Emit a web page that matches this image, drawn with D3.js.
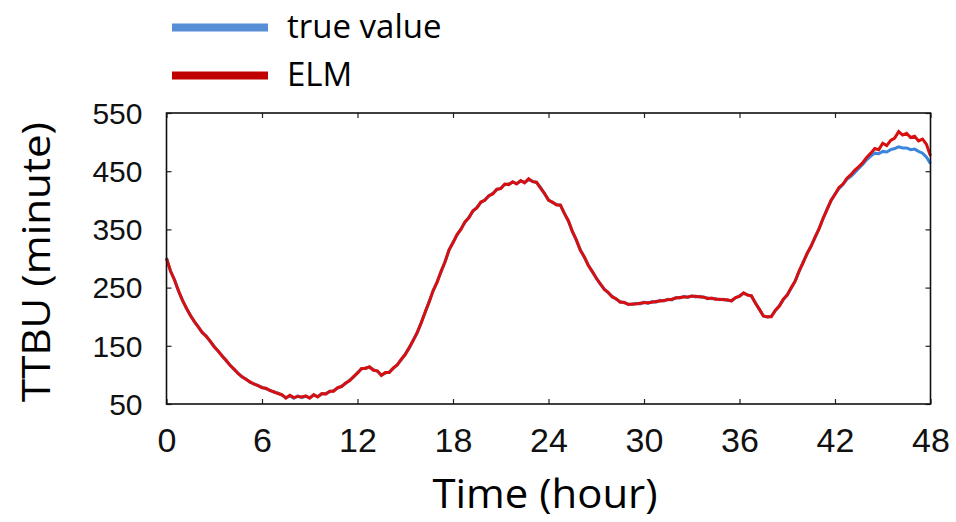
<!DOCTYPE html>
<html>
<head>
<meta charset="utf-8">
<script src="https://cdn.jsdelivr.net/npm/d3@7"></script>
<style>
  body { margin: 0; background: #fff; }
  svg { display: block; }
</style>
</head>
<body>
<div id="grafico"></div>
<script>
// horas (passo de 0.25 h)
const horas = d3.range(0, 48.001, 0.25);

// valores (minutos)
const valorReal = [
  301, 278, 264, 244, 229, 214, 203, 191, 183, 172, 167, 157, 149, 140, 133, 124,
  117, 109, 103, 96, 93, 87, 85, 81, 79, 76, 74, 70, 69, 65, 61, 64,
  60, 64, 61, 63, 61, 65, 63, 67, 68, 71, 73, 77, 81, 85, 91, 96,
  104, 110, 112, 113, 109, 106, 100, 103, 105, 111, 118, 126, 136, 146, 160, 172,
  190, 207, 226, 244, 260, 277, 295, 314, 328, 340, 351, 362, 371, 381, 388, 396,
  401, 407, 412, 418, 421, 427, 428, 431, 429, 433, 431, 435, 433, 430, 422, 411,
  401, 396, 393, 391, 378, 364, 347, 331, 315, 302, 289, 277, 267, 256, 248, 241,
  235, 230, 226, 224, 222, 221, 223, 222, 225, 223, 226, 225, 228, 227, 230, 229,
  233, 232, 235, 233, 236, 234, 235, 233, 232, 231, 231, 229, 230, 228, 228, 232,
  236, 240, 238, 235, 224, 212, 202, 199, 201, 210, 219, 229, 238, 249, 262, 278,
  294, 308, 322, 336, 352, 368, 385, 399, 411, 420, 427, 436, 441, 448, 455, 462,
  470, 476, 481, 480, 484, 483, 487, 489, 492, 490, 490, 487, 488, 484, 481, 474,
  463
];

const valorELM = [
  300, 279, 263, 245, 228, 215, 202, 192, 182, 173, 166, 158, 148, 141, 132, 125,
  116, 110, 102, 97, 92, 88, 84, 82, 78, 77, 73, 71, 68, 66, 60, 65,
  61, 63, 62, 64, 60, 66, 62, 68, 67, 72, 72, 78, 80, 86, 90, 97,
  103, 111, 111, 114, 108, 107, 99, 104, 104, 112, 117, 127, 135, 147, 159, 173,
  189, 208, 225, 245, 259, 278, 294, 315, 327, 341, 350, 363, 370, 382, 387, 397,
  400, 408, 411, 419, 420, 428, 427, 432, 428, 434, 430, 437, 432, 431, 421, 412,
  400, 397, 392, 392, 377, 365, 346, 332, 314, 303, 288, 278, 266, 257, 247, 242,
  234, 231, 225, 225, 221, 222, 222, 223, 224, 224, 225, 226, 227, 228, 229, 230,
  232, 233, 234, 234, 235, 235, 234, 234, 231, 232, 230, 230, 229, 229, 227, 233,
  235, 241, 237, 236, 223, 213, 201, 200, 200, 211, 218, 230, 237, 250, 261, 279,
  293, 309, 321, 337, 351, 369, 384, 400, 410, 422, 428, 438, 444, 452, 458, 465,
  474, 481, 489, 487, 498, 494, 503, 507, 518, 512, 515, 508, 510, 502, 505, 496,
  476
];

const ticksX = [0, 6, 12, 18, 24, 30, 36, 42, 48];
const ticksY = [50, 150, 250, 350, 450, 550];

const legenda = ['true value', 'ELM'];

// cores
const corLinha = { real: '#3a86dc', elm: '#d80f0f' };
const corLegenda = { real: '#558ed5', elm: '#c00000' };

// area do grafico
const margin = { top: 113, right: 25.5, bottom: 118, left: 166.5 };
const width = 956 - margin.left - margin.right;
const height = 522 - margin.top - margin.bottom;

const svg = d3.select('#grafico').append('svg')
  .attr('width', 956)
  .attr('height', 522);

const g = svg.append('g')
  .attr('transform', `translate(${margin.left}, ${margin.top})`);

const x = d3.scaleLinear().domain([0, 48]).range([0, width]);
const y = d3.scaleLinear().domain([50, 550]).range([height, 0]);

// eixos (ticks para dentro)
const eixoX = g.append('g')
  .attr('transform', `translate(0, ${height})`)
  .call(d3.axisBottom(x).tickValues(ticksX).tickSize(-5).tickPadding(24));

eixoX.selectAll('text')
  .attr('dy', 0)
  .attr('y', 48)
  .style('font-family', '"Liberation Sans Narrow", "Liberation Sans", Arial, sans-serif')
  .style('font-size', '34px')
  .attr('fill', '#111');

const eixoY = g.append('g')
  .call(d3.axisLeft(y).tickValues(ticksY).tickSize(-5).tickPadding(24));

eixoY.selectAll('text')
  .attr('dy', '0.34em')
  .style('font-family', '"Liberation Sans", Arial, sans-serif')
  .style('font-size', '30px')
  .attr('fill', '#111');

g.append('g')
  .call(d3.axisTop(x).tickValues(ticksX).tickSize(-5).tickFormat(''));

g.append('g')
  .attr('transform', `translate(${width}, 0)`)
  .call(d3.axisRight(y).tickValues(ticksY).tickSize(-5).tickFormat(''));

g.selectAll('.domain').remove();
g.selectAll('.tick line').attr('stroke', '#222').attr('stroke-width', 1.2);

// linhas
const linha = d3.line()
  .x((d, i) => x(horas[i]))
  .y(d => y(d));

g.append('path')
  .datum(valorReal)
  .attr('d', linha)
  .attr('fill', 'none')
  .attr('stroke', corLinha.real)
  .attr('stroke-width', 3);

g.append('path')
  .datum(valorELM)
  .attr('d', linha)
  .attr('fill', 'none')
  .attr('stroke', corLinha.elm)
  .attr('stroke-width', 3);

// moldura
g.append('rect')
  .attr('width', width)
  .attr('height', height)
  .attr('fill', 'none')
  .attr('stroke', '#111')
  .attr('stroke-width', 1.6);

// titulos dos eixos
svg.append('text')
  .attr('x', 545)
  .attr('y', 508)
  .attr('text-anchor', 'middle')
  .attr('textLength', 225)
  .attr('lengthAdjust', 'spacingAndGlyphs')
  .style('font-family', '"Open Sans", sans-serif')
  .style('font-size', '41px')
  .attr('fill', '#000')
  .text('Time (hour)');

svg.append('text')
  .attr('transform', 'translate(50, 262) rotate(-90)')
  .attr('text-anchor', 'middle')
  .attr('textLength', 280)
  .attr('lengthAdjust', 'spacingAndGlyphs')
  .style('font-family', '"Open Sans", sans-serif')
  .style('font-size', '39px')
  .attr('fill', '#000')
  .text('TTBU (minute)');

// legenda
const coresLeg = [corLegenda.real, corLegenda.elm];
const leg = svg.append('g');
legenda.forEach((nome, i) => {
  const cy = 27.5 + i * 48;
  leg.append('line')
    .attr('x1', 172).attr('x2', 268)
    .attr('y1', cy).attr('y2', cy)
    .attr('stroke', coresLeg[i])
    .attr('stroke-width', 8);
  leg.append('text')
    .attr('x', 287)
    .attr('y', cy + 10)
    .style('font-family', '"Open Sans", sans-serif')
    .style('font-size', '33px')
    .attr('fill', '#000')
    .text(nome);
});
</script>
</body>
</html>
